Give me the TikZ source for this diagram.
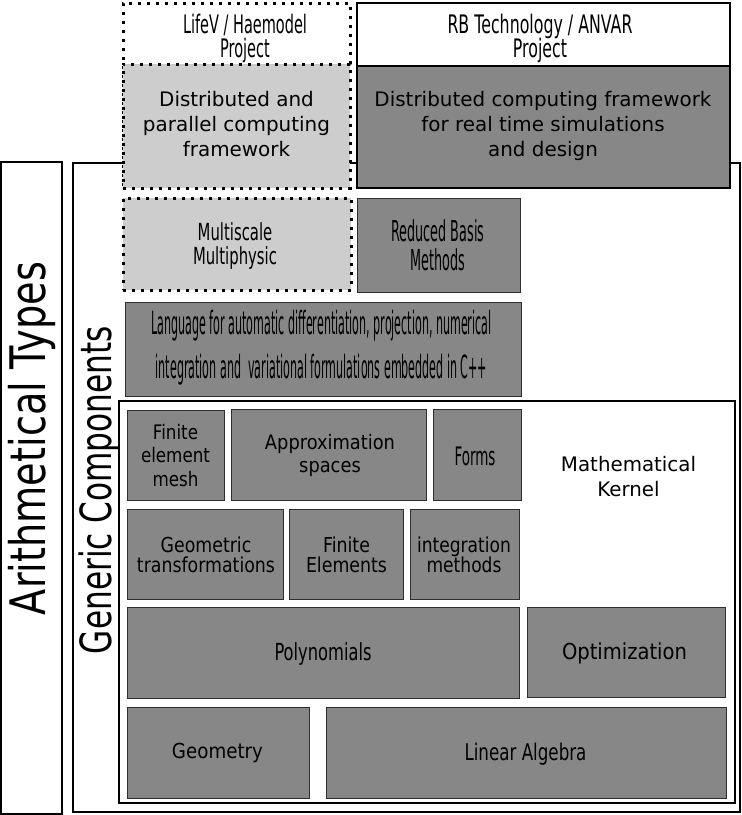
\documentclass[tikz,border=0pt]{standalone}
\usepackage{fontspec}
\setmainfont{DejaVu Sans}
\usepackage{graphicx}
\definecolor{dg}{HTML}{878787}
\definecolor{lg}{HTML}{CDCDCD}
\definecolor{bd}{HTML}{2E2E2E}
% em size, baselineskip, target width, lines (each line in \sm{})
\newcommand\tx[4]{\resizebox{#3pt}{\height}{\fontsize{#1pt}{#2pt}\selectfont\begin{tabular}{@{}c@{}}#4\end{tabular}}}
\newcommand\sm[1]{\smash{#1}}
\newcommand\rt[3]{\resizebox{#2pt}{\height}{\fontsize{#1pt}{#1pt}\selectfont #3}}
\begin{document}
\begin{tikzpicture}[x=1pt,y=-1pt,
  every node/.style={inner sep=0pt,outer sep=0pt},
  dbox/.style={rectangle,fill=dg,draw=bd,line width=1pt},
  lbox/.style={rectangle,fill=lg,draw=black,line width=3pt,dash pattern=on 3pt off 6pt},
  wdot/.style={rectangle,fill=white,draw=black,line width=3pt,dash pattern=on 3pt off 6pt},
  frame/.style={rectangle,fill=white,draw=black,line width=1.5pt},
  lbl/.style={text=black,anchor=center}]
\useasboundingbox (0,0) rectangle (742,815);
% outer frames
\node[frame,minimum width=61pt,minimum height=652pt] (arith) at (31.5,488) {};
\node[frame,minimum width=667pt,minimum height=649pt] (generic) at (406.5,487.5) {};
% LifeV project
\node[wdot,minimum width=227pt,minimum height=185pt] (lifev) at (236.5,95.5) {};
\node[lbox,minimum width=227pt,minimum height=124pt] (lifevg) at (236.5,126) {};
% RB project
\node[frame,minimum width=373pt,minimum height=63pt] (rbtop) at (543.5,34.5) {};
\node[dbox,draw=black,line width=1.2pt,minimum width=373pt,minimum height=122pt] (rbg) at (543.5,127) {};
% second row
\node[lbox,minimum width=228pt,minimum height=92pt] (multi) at (237,244) {};
\node[dbox,minimum width=163pt,minimum height=94pt] (rbm) at (438.5,245) {};
\node[dbox,minimum width=396pt,minimum height=94pt] (lang) at (323,349) {};
% kernel
\node[frame,line width=2pt,minimum width=616pt,minimum height=402pt] (kernel) at (427,602) {};
\node[dbox,minimum width=97pt,minimum height=90pt] (fem) at (175.5,455) {};
\node[dbox,minimum width=195pt,minimum height=91pt] (approx) at (328.5,454.5) {};
\node[dbox,minimum width=88pt,minimum height=91pt] (forms) at (477,454.5) {};
\node[dbox,minimum width=156pt,minimum height=90pt] (geot) at (205,554) {};
\node[dbox,minimum width=114pt,minimum height=90pt] (fe) at (346,554) {};
\node[dbox,minimum width=109pt,minimum height=90pt] (integ) at (464.5,554) {};
\node[dbox,minimum width=392pt,minimum height=91pt] (poly) at (323,652.5) {};
\node[dbox,minimum width=198pt,minimum height=90pt] (opt) at (626,652) {};
\node[dbox,minimum width=182pt,minimum height=91pt] (geo) at (218,752.5) {};
\node[dbox,minimum width=400pt,minimum height=91pt] (linalg) at (526,752.5) {};
% texts
\node[lbl] (tlifev) at (245,41) {\tx{25.5}{24}{124}{\sm{LifeV / Haemodel}\\\sm{Project}}};
\node[lbl] (trb) at (540,41) {\tx{25.5}{24}{185}{\sm{RB Technology / ANVAR}\\\sm{Project}}};
\node[lbl] (tdpc) at (236.5,126.3) {\tx{20}{25}{187}{\sm{Distributed and}\\\sm{parallel computing}\\\sm{framework}}};
\node[lbl] (tdcf) at (543,126.3) {\tx{20}{25}{337}{\sm{Distributed computing framework}\\\sm{for real time simulations}\\\sm{and design}}};
\node[lbl] (tmulti) at (235,247.5) {\tx{23.5}{24}{84}{\sm{Multiscale}\\\sm{Multiphysic}}};
\node[lbl] (trbm) at (438,250) {\tx{28.8}{29.5}{93}{\sm{Reduced Basis}\\\sm{Methods}}};
\node[lbl] (tlang) at (321.5,347.5) {\tx{32}{44}{340}{\sm{Language for automatic differentiation, projection, numerical}\\\sm{integration and\ \ variational formulations embedded in C++}}};
\node[lbl] (tfem) at (175.5,458) {\tx{20}{23.5}{69}{\sm{Finite}\\\sm{element}\\\sm{mesh}}};
\node[lbl] (tapprox) at (330,456.5) {\tx{20}{23.5}{130}{\sm{Approximation}\\\sm{spaces}}};
\node[lbl] (tforms) at (475,460) {\tx{25.5}{27}{41}{\sm{Forms}}};
\node[lbl] (tmk) at (628.5,479) {\tx{20}{25}{135}{\sm{Mathematical}\\\sm{Kernel}}};
\node[lbl] (tgeot) at (206,558.5) {\tx{20.6}{20}{138}{\sm{Geometric}\\\sm{transformations}}};
\node[lbl] (tfe) at (346.5,558.5) {\tx{20.6}{20}{81}{\sm{Finite}\\\sm{Elements}}};
\node[lbl] (tinteg) at (464,558.5) {\tx{20.6}{20}{94}{\sm{integration}\\\sm{methods}}};
\node[lbl] (tpoly) at (323,655.5) {\tx{23.5}{24}{97}{\sm{Polynomials}}};
\node[lbl] (topt) at (624.5,654) {\tx{22}{27}{125}{\sm{Optimization}}};
\node[lbl] (tgeo) at (217.5,754) {\tx{20.6}{24}{91}{\sm{Geometry}}};
\node[lbl] (tla) at (525.5,755.5) {\tx{23}{24}{122}{\sm{Linear Algebra}}};
\node[anchor=base,rotate=90] (tarith) at (45,438.5) {\rt{49}{353}{Arithmetical Types}};
\node[anchor=base,rotate=90] (tgen) at (111,490) {\rt{43}{328}{Generic Components}};
\end{tikzpicture}
\end{document}
